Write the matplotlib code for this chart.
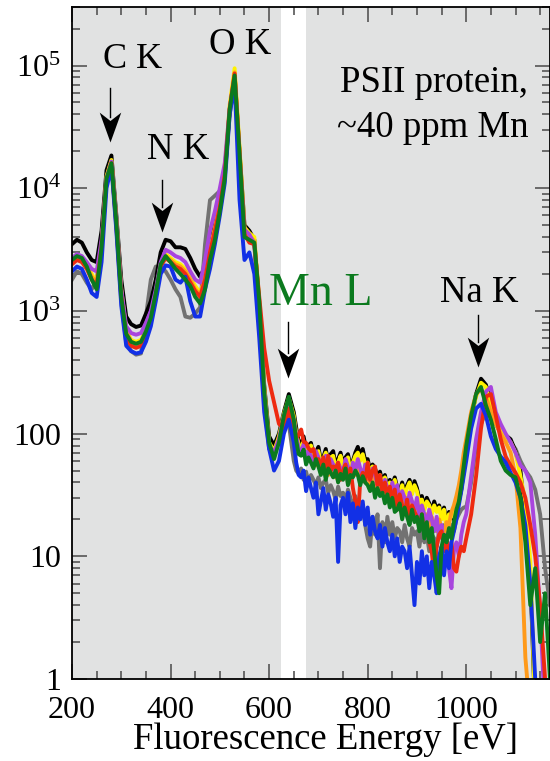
import numpy as np
import matplotlib.pyplot as plt
from matplotlib.path import Path
from matplotlib.ticker import FixedLocator, FuncFormatter, MultipleLocator, LogLocator, NullFormatter

plt.rcParams['font.family'] = ['Liberation Serif', 'DejaVu Serif']
plt.rcParams['mathtext.fontset'] = 'custom'
plt.rcParams['mathtext.rm'] = 'Liberation Serif'
plt.rcParams['mathtext.it'] = 'Liberation Serif:italic'

# energie (eV) : pas de 10 eV, pas de 5 eV dans la zone bruitee 650-995 eV
energy = np.concatenate([np.arange(200, 650, 10),
                         np.arange(650, 1000, 5),
                         np.arange(1000, 1171, 10)])

# spectres de fluorescence (coups), une liste par echantillon
black = [3500, 3800, 3600, 3000, 2600, 2500, 4500, 14000, 18500, 6000,
         1800, 900, 780, 740, 760, 950, 1200, 1800, 3000, 3800,
         3700, 3300, 3300, 3200, 2700, 2200, 1900, 2300, 3500, 5000,
         8000, 14000, 43000, 85000, 20000, 5000, 4500, 3800, 1100, 250,
         95, 80, 100, 150, 210,
         150, 112, 86, 82, 95, 74, 80, 84, 66, 70,
         78, 60, 64, 75, 57, 68, 72, 55, 62, 70,
         56, 64, 68, 54, 60, 70, 78, 66, 75, 60,
         62, 50, 56, 52, 44, 49, 40, 46, 35, 42,
         38, 44, 36, 34, 40, 33, 38, 42, 34, 41,
         36, 29, 31, 25, 30, 27, 23, 28, 24, 26,
         21, 25, 18, 23, 21, 20, 26, 28, 35, 50,
         70, 130, 210, 280, 250, 180, 135, 110, 97, 90,
         72, 50, 20, 7, 0.5, 0.5, 0.5, 0.5]

gray = [1800, 2100, 2000, 1700, 1500, 1800, 3300, 12000, 16000, 4800,
        1200, 550, 470, 440, 450, 900, 1800, 2300, 2300, 2100,
        1800, 1500, 1300, 900, 880, 950, 1070, 3500, 8000, 8700,
        9500, 13000, 40000, 75000, 19000, 4400, 3800, 3500, 900, 180,
        75, 70, 85, 110, 120,
        60, 50, 47, 52, 42, 49, 40, 46, 42, 38,
        44, 36, 40, 42, 33, 38, 34, 29, 37, 31,
        33, 28, 35, 30, 24, 31, 26, 22, 25, 18,
        14, 12, 21, 15, 22, 8, 19, 13, 21, 15,
        19, 14, 17, 16, 13, 18, 14, 12, 17, 15,
        16, 12, 17, 13, 15, 11, 15, 14, 12, 16,
        15, 18, 13, 16, 18, 16, 20, 22, 24, 25,
        25, 40, 80, 120, 150, 140, 120, 100, 95, 85,
        75, 60, 50, 44, 35, 22, 8, 4]

purple = [2700, 2900, 2800, 2500, 2200, 2100, 3800, 12000, 16500, 5500,
          1500, 750, 660, 640, 660, 800, 1000, 1500, 2500, 3150,
          3000, 2800, 2700, 2500, 2100, 1800, 1700, 2600, 4500, 6500,
          10000, 16000, 45000, 80000, 18000, 4600, 4200, 3500, 1000, 220,
          80, 70, 90, 140, 190,
          130, 96, 76, 70, 82, 62, 72, 66, 58, 72,
          64, 50, 60, 66, 48, 62, 56, 46, 58, 52,
          48, 62, 54, 44, 58, 50, 62, 52, 44, 56,
          50, 42, 52, 46, 38, 45, 34, 42, 36, 30,
          40, 32, 38, 27, 34, 30, 25, 33, 28, 24,
          30, 21, 26, 22, 18, 24, 20, 16, 21, 14,
          18, 11, 15, 8, 5.5, 11, 13, 10, 15, 19,
          22, 45, 90, 150, 220, 240, 150, 120, 100, 85,
          70, 55, 50, 40, 15, 3.5, 0.5, 0.5]

yellow = [2600, 2800, 2700, 2400, 2000, 1700, 3500, 12500, 17000, 5500,
          1500, 700, 580, 560, 580, 700, 900, 1400, 2400, 2900,
          2700, 2500, 2400, 2200, 1900, 1600, 1400, 1800, 3000, 4500,
          7500, 14000, 48000, 95000, 21000, 4800, 4300, 4000, 1200, 240,
          85, 72, 95, 145, 195,
          140, 100, 82, 76, 86, 68, 76, 80, 62, 68,
          72, 58, 62, 70, 54, 64, 66, 52, 58, 66,
          52, 60, 64, 50, 58, 66, 70, 60, 68, 56,
          58, 46, 54, 48, 42, 46, 38, 44, 33, 40,
          35, 42, 34, 32, 38, 31, 36, 40, 32, 38,
          34, 27, 29, 24, 28, 26, 22, 26, 23, 25,
          20, 24, 17, 22, 21, 22, 27, 30, 38, 55,
          80, 140, 200, 260, 240, 170, 130, 110, 95, 85,
          70, 45, 28, 9, 0.5, 0.5, 0.5, 0.5]

orange = [2500, 2700, 2600, 2300, 1900, 1700, 3400, 12000, 16500, 5300,
          1400, 680, 560, 540, 560, 680, 880, 1400, 2400, 2800,
          2600, 2400, 2300, 2100, 1800, 1500, 1350, 1900, 3200, 4800,
          7500, 13500, 45000, 88000, 20000, 4500, 4100, 3700, 1100, 220,
          80, 70, 90, 135, 180,
          125, 90, 74, 72, 76, 62, 70, 60, 64, 55,
          64, 48, 58, 52, 46, 60, 50, 44, 56, 48,
          44, 54, 48, 40, 52, 46, 56, 44, 50, 46,
          48, 38, 46, 40, 36, 42, 32, 38, 33, 28,
          35, 29, 32, 26, 31, 24, 30, 23, 28, 22,
          27, 20, 25, 19, 22, 17, 21, 18, 16, 20,
          17, 15, 19, 18, 23, 26, 31, 38, 50, 70,
          90, 150, 210, 230, 200, 150, 120, 100, 85, 70,
          45, 17, 1.5, 0.5, 0.5, 0.5, 0.5, 0.5]

red = [2400, 2600, 2500, 2200, 1800, 1600, 3300, 11500, 16000, 5000,
       1300, 620, 520, 500, 520, 640, 850, 1350, 2300, 2700,
       2500, 2300, 2200, 2000, 1700, 1450, 1300, 1800, 3000, 4500,
       7000, 13000, 44000, 86000, 19000, 4200, 3600, 3500, 1300, 500,
       270, 180, 120, 110, 160,
       100, 92, 98, 108, 86, 84, 76, 72, 75, 60,
       62, 54, 64, 48, 66, 50, 54, 52, 58, 42,
       50, 56, 40, 52, 36, 28, 19, 42, 48, 40,
       58, 42, 50, 54, 38, 46, 33, 40, 30, 37,
       28, 35, 24, 32, 26, 22, 29, 20, 26, 23,
       21, 17, 22, 15, 18, 13, 11, 7, 12, 15,
       16, 11, 14, 9, 13, 8, 7.5, 10, 12, 11,
       14, 22, 45, 110, 200, 210, 140, 90, 65, 55,
       48, 40, 30, 18, 10, 4, 1, 0.5]

green = [2600, 2800, 2700, 2300, 1800, 1500, 3300, 12000, 16000, 5200,
         1300, 650, 560, 540, 560, 680, 880, 1400, 2400, 2800,
         2500, 2200, 2000, 1800, 1600, 1300, 1150, 1500, 2600, 3800,
         6500, 12000, 44000, 83000, 19000, 4000, 3800, 3600, 1200, 220,
         85, 62, 85, 140, 200,
         130, 88, 68, 66, 74, 56, 64, 58, 52, 62,
         54, 46, 56, 42, 52, 48, 44, 50, 40, 47,
         42, 52, 38, 46, 44, 50, 46, 38, 45, 40,
         38, 34, 40, 30, 36, 31, 33, 27, 32, 25,
         30, 23, 24, 27, 20, 25, 21, 18, 24, 19,
         21, 16, 22, 14, 19, 13, 17, 11, 7, 5,
         12, 15, 13, 17, 14, 19, 24, 28, 38, 55,
         80, 140, 210, 240, 170, 130, 90, 60, 50, 46,
         44, 30, 13, 4, 8, 2, 5, 1]

blue = [2100, 2300, 2200, 1800, 1400, 1300, 2500, 10000, 15000, 4500,
        1100, 520, 470, 450, 460, 560, 750, 1200, 2000, 2350,
        2300, 1800, 1700, 1900, 1200, 900, 900, 1500, 2200, 3500,
        6000, 11000, 40000, 72000, 8000, 2600, 3000, 2000, 600, 150,
        75, 50, 60, 100, 130,
        85, 58, 46, 44, 50, 34, 44, 36, 30, 40,
        22, 28, 36, 24, 32, 27, 21, 30, 9, 26,
        30, 22, 33, 19, 27, 17, 25, 20, 28, 18,
        25, 15, 21, 16, 14, 18, 12, 17, 13, 11,
        15, 10, 14, 9, 12, 11, 8, 12, 7, 4,
        9, 6, 11, 7, 10, 5.5, 9, 7, 5, 10,
        12, 7, 11, 8, 13, 16, 20, 26, 34, 45,
        60, 110, 160, 175, 140, 95, 75, 65, 58, 48,
        40, 30, 18, 6, 1, 0.5, 0.5, 0.5]

series = [
    (gray, '#727272'),
    (black, '#000000'),
    (yellow, '#fff200'),
    (orange, '#ff9a1a'),
    (purple, '#a845dd'),
    (red, '#ee2a10'),
    (blue, '#1230e6'),
    (green, '#0b7a1e'),
]

fig = plt.figure(figsize=(5.5, 7.61), dpi=100)
ax = fig.add_axes([72 / 550, 82 / 761, 478 / 550, 672 / 761])
ax.set_facecolor('#e1e2e2')
ax.axvspan(624, 675, color='white', lw=0, zorder=0.5)

for values, color in series:
    ax.plot(energy, values, color=color, lw=2.8, zorder=2)

ax.set_yscale('log')
ax.set_xlim(200, 1170)
ax.set_ylim(1, 3.0e5)

ax.xaxis.set_major_locator(FixedLocator([200, 400, 600, 800, 1000]))
ax.xaxis.set_minor_locator(MultipleLocator(50))
ax.yaxis.set_major_locator(LogLocator(base=10, numticks=10))
ax.yaxis.set_minor_locator(LogLocator(base=10, subs=np.arange(2, 10), numticks=20))
ax.yaxis.set_minor_formatter(NullFormatter())


def ylab(v, pos):
    if v >= 1000:
        return r'$10^{%d}$' % round(np.log10(v))
    return '%d' % round(v)


ax.yaxis.set_major_formatter(FuncFormatter(ylab))

ax.tick_params(which='both', direction='in', top=True, right=True,
               color='#555555', labelsize=23, width=1.2)
ax.tick_params(which='major', length=11)
ax.tick_params(which='minor', length=6)
ax.tick_params(axis='x', which='major', pad=12)
ax.tick_params(axis='y', which='major', pad=8)
for side in ['left', 'bottom', 'top', 'right']:
    ax.spines[side].set_linewidth(1.3)

ax.set_xlabel('Fluorescence Energy [eV]', fontsize=26.5)
ax.xaxis.set_label_coords(0.531, -0.065)

# etiquettes des raies
ax.text(322, 95500, 'C K', fontsize=26, ha='center', va='baseline')
ax.text(541, 124000, 'O K', fontsize=26.5, ha='center', va='baseline')
ax.text(415, 17300, 'N K', fontsize=26.5, ha='center', va='baseline')
ax.text(704, 1117, 'Mn L', fontsize=33, ha='center', va='baseline', color='#0b7a1e')
ax.text(1026, 1182, 'Na K', fontsize=26.5, ha='center', va='baseline')
ax.text(1126, 60800, 'PSII protein,', fontsize=26.5, ha='right', va='baseline')
ax.text(1126, 26100, '~40 ppm Mn', fontsize=26.5, ha='right', va='baseline')

# fleches : tige fine + pointe concave
head = Path([(0, 0), (-0.36, 1.0), (0, 0.72), (0.36, 1.0), (0, 0)],
            [Path.MOVETO, Path.LINETO, Path.LINETO, Path.LINETO, Path.CLOSEPOLY])
arrows = [(277, 65600, 23800), (383, 11700, 4400), (639, 811, 284), (1024, 926, 349)]
for xa, ytop, ytip in arrows:
    ax.plot([xa, xa], [ytop, ytip * 1.6], color='black', lw=1.0, zorder=5)
    ax.plot([xa], [ytip], marker=head, markersize=43, color='black',
            markeredgewidth=0, zorder=5)

fig.savefig('out.png', dpi=100)
